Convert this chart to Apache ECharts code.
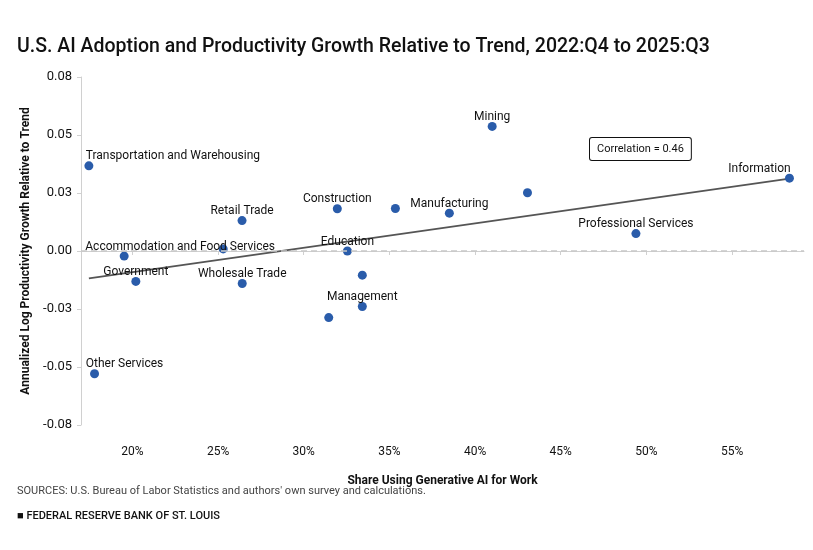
<!DOCTYPE html>
<html>
<head>
<meta charset="utf-8">
<script src="https://cdn.jsdelivr.net/npm/echarts@6/dist/echarts.min.js"></script>
<style>
  html, body { margin: 0; padding: 0; background: #fff; }
  #chart { width: 813px; height: 550px; }
</style>
</head>
<body>
<div id="chart"></div>
<script>
// industries ('' = dot without a label)
const sectors = [
  'Transportation and Warehousing', 'Accommodation and Food Services', 'Other Services',
  'Government', '', 'Retail Trade', 'Wholesale Trade', '', 'Construction', 'Education',
  '', 'Management', '', 'Manufacturing', 'Mining', '', 'Professional Services', 'Information',
]
// share using generative AI for work (%)
const shareAI = [17.46, 19.52, 17.79, 20.2, 25.3, 26.4, 26.41, 31.46, 31.96, 32.55, 33.42, 33.42, 35.35, 38.5, 41.0, 43.06, 49.39, 58.35]
// annualized log productivity growth relative to trend
const prodGrowth = [0.0367, -0.0022, -0.0529, -0.0131, 0.0009, 0.0131, -0.014, -0.0287, 0.0182, 0.0, -0.0104, -0.0239, 0.0183, 0.0163, 0.0537, 0.0251, 0.0075, 0.0314]
// label shifts for the few labels that are not centred on their dot
const labelShift = { 'Transportation and Warehousing': 84, 'Accommodation and Food Services': 56, 'Other Services': 30, 'Information': -30 }

// fitted trend line end points
const trendX = [17.46, 58.35]
const trendY = [-0.0118, 0.0312]

const xTicks = [20, 25, 30, 35, 40, 45, 50, 55]
const yTickLabels = ['-0.08', '-0.05', '-0.03', '0.00', '0.03', '0.05', '0.08']
const yMin = -0.075
const yStep = 0.025

const font = 'Roboto, "Liberation Sans", sans-serif'
const textColor = '#111'

const points = shareAI.map((x, i) => ({
  name: sectors[i],
  value: [x, prodGrowth[i]],
  label: { show: sectors[i] !== '' },
}))

const chart = echarts.init(document.getElementById('chart'), null, { renderer: 'canvas' })

chart.setOption({
  backgroundColor: '#fff',
  animation: false,
  textStyle: { fontFamily: font },
  title: {
    text: 'U.S. AI Adoption and Productivity Growth Relative to Trend, 2022:Q4 to 2025:Q3',
    left: 12,
    top: 32,
    textStyle: { fontFamily: font, fontSize: 19.5, fontWeight: 500, color: '#111' },
  },
  grid: { left: 81, right: 9, top: 77, bottom: 125, containLabel: false },
  xAxis: {
    type: 'value',
    min: 17,
    max: 59.2,
    name: 'Share Using Generative AI for Work',
    nameLocation: 'middle',
    nameGap: 50,
    nameTextStyle: { fontFamily: font, fontSize: 12, fontWeight: 'bold', color: textColor },
    axisLine: { show: true, lineStyle: { color: '#d0d0d0', width: 1 } },
    axisTick: { show: true, length: 4, customValues: xTicks, lineStyle: { color: '#d0d0d0' } },
    axisLabel: {
      customValues: xTicks,
      margin: 21,
      fontSize: 12,
      color: textColor,
      formatter: (v) => v + '%',
    },
    splitLine: { show: false },
  },
  yAxis: {
    type: 'value',
    min: yMin,
    max: 0.075,
    interval: yStep,
    name: 'Annualized Log Productivity Growth Relative to Trend',
    nameLocation: 'middle',
    nameGap: 41,
    nameTextStyle: { fontFamily: font, fontSize: 12, fontWeight: 'bold', color: textColor },
    axisLine: { show: true, lineStyle: { color: '#d0d0d0', width: 1 } },
    axisTick: { show: true, length: 4, lineStyle: { color: '#d0d0d0' } },
    axisLabel: {
      margin: 9,
      fontSize: 13,
      color: textColor,
      formatter: (v) => yTickLabels[Math.round((v - yMin) / yStep)],
    },
    splitLine: { show: false },
  },
  series: [
    {
      type: 'line',
      data: trendX.map((x, i) => [x, trendY[i]]),
      showSymbol: false,
      symbol: 'none',
      lineStyle: { color: '#555', width: 2 },
      z: 2,
      markLine: {
        silent: true,
        symbol: 'none',
        label: { show: false },
        lineStyle: { color: '#c8c8c8', type: [6, 4], width: 1.5 },
        data: [{ yAxis: 0 }],
      },
    },
    {
      type: 'scatter',
      data: points,
      symbolSize: 9,
      itemStyle: { color: '#2a5caa', opacity: 1 },
      z: 3,
      label: {
        position: 'top',
        distance: 0,
        formatter: '{b}',
        fontFamily: font,
        fontSize: 12,
        color: textColor,
      },
      labelLayout: (params) => ({
        dx: labelShift[sectors[params.dataIndex]] || 0,
        dy: 1,
        hideOverlap: false,
      }),
    },
  ],
  graphic: [
    {
      type: 'text',
      left: 589,
      top: 137,
      style: {
        text: 'Correlation = 0.46',
        font: '11px ' + font,
        fill: '#111',
        backgroundColor: '#fff',
        borderColor: '#111',
        borderWidth: 1,
        borderRadius: 2,
        padding: [6, 7, 5, 7],
      },
    },
    {
      type: 'text',
      left: 17,
      top: 486,
      style: {
        text: "SOURCES: U.S. Bureau of Labor Statistics and authors' own survey and calculations.",
        font: '11px ' + font,
        fill: '#444',
      },
    },
    {
      type: 'text',
      left: 17,
      top: 511,
      style: {
        text: '\u25A0 FEDERAL RESERVE BANK OF ST. LOUIS',
        font: '500 11px ' + font,
        fill: '#111',
      },
    },
  ],
})
</script>
</body>
</html>
